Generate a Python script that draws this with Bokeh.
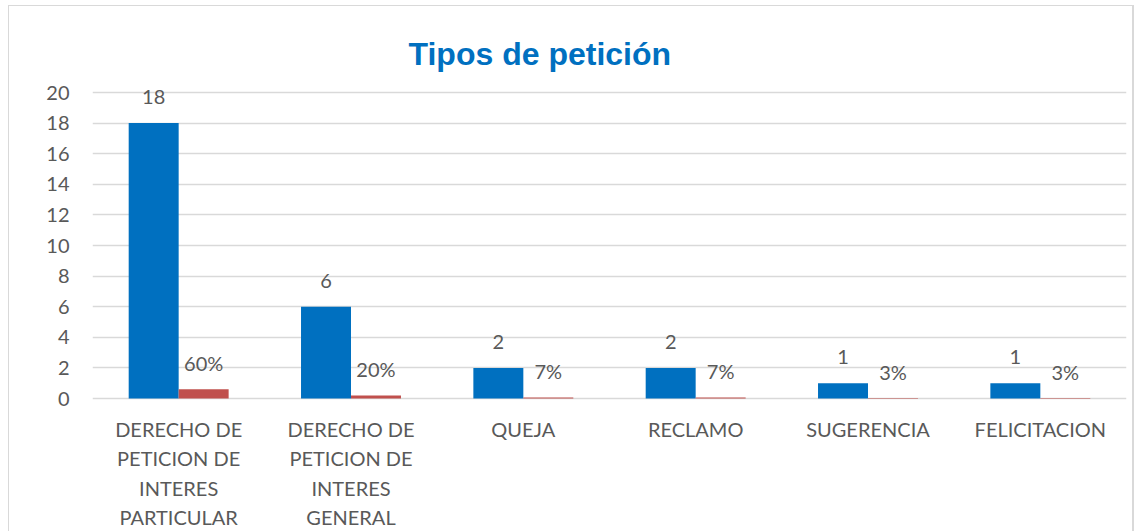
from bokeh.plotting import figure
from bokeh.models import ColumnDataSource, FactorRange, Range1d, LabelSet, FixedTicker
from bokeh.core.properties import value
from bokeh.transform import dodge
from bokeh.embed import file_html
from bokeh.resources import INLINE

# ---- data ----
categories = ["DERECHO DE PETICION DE INTERES PARTICULAR",
              "DERECHO DE PETICION DE INTERES GENERAL",
              "QUEJA", "RECLAMO", "SUGERENCIA", "FELICITACION"]
category_labels = ["DERECHO DE\nPETICION DE\nINTERES\nPARTICULAR",
                   "DERECHO DE\nPETICION DE\nINTERES\nGENERAL",
                   "QUEJA", "RECLAMO", "SUGERENCIA", "FELICITACION"]
cantidad = [18, 6, 2, 2, 1, 1]
porcentaje = [0.60, 0.20, 0.067, 0.067, 0.033, 0.033]
y_ticks = [0, 2, 4, 6, 8, 10, 12, 14, 16, 18, 20]

BLUE = "#0070C0"
RED = "#C0504D"
GRAY = "#595959"
GRID = "#D9D9D9"
FONT = "Lato"

source = ColumnDataSource(dict(
    cat=categories,
    cantidad=cantidad,
    porcentaje=porcentaje,
    cant_txt=[str(v) for v in cantidad],
    pct_txt=["{:.0f}%".format(v * 100) for v in porcentaje],
))

# category label lines (multi-line axis labels)
lc, lt, lo, lz = [], [], [], []
for c, lab in zip(categories, category_labels):
    for i, line in enumerate(lab.split("\n")):
        lc.append(c)
        lt.append(line)
        lo.append(-(30.5 + 29.3 * i))
        lz.append(0)
cat_source = ColumnDataSource(dict(cat=lc, txt=lt, off=lo, y=lz))

# vertical scale: 20 units over 306 px; frame extended above and below the axis
PX = 306 / 20.0
y_start = -(526 - 393) / PX
y_end = 20 + 20 / PX

p = figure(x_range=FactorRange(factors=categories), y_range=Range1d(y_start, y_end),
           width=1126, height=526, output_backend="svg", toolbar_location=None,
           min_border_left=84, min_border_right=8, min_border_top=67, min_border_bottom=0)

p.styles = {"margin-left": "8px", "margin-top": "5px",
            "box-shadow": "inset 1px 1px 0 #D9D9D9, inset -2px 0 0 #D9D9D9"}
p.border_fill_color = None
p.background_fill_color = None
p.outline_line_color = None

p.vbar(x=dodge("cat", -0.145, range=p.x_range), top="cantidad", width=0.29,
       source=source, fill_color=BLUE, line_color=None)
p.vbar(x=dodge("cat", 0.145, range=p.x_range), top="porcentaje", width=0.29,
       source=source, fill_color=RED, line_color=None)

lab1 = LabelSet(x=dodge("cat", -0.145, range=p.x_range), y="cantidad", text="cant_txt",
                source=source, text_align="center", text_baseline="middle", y_offset=26,
                text_font=value(FONT), text_font_size="20px", text_color=GRAY)
lab2 = LabelSet(x=dodge("cat", 0.145, range=p.x_range), y="porcentaje", text="pct_txt",
                source=source, text_align="center", text_baseline="middle", y_offset=26,
                text_font=value(FONT), text_font_size="20px", text_color=GRAY)
lab3 = LabelSet(x="cat", y="y", text="txt", y_offset="off", source=cat_source,
                text_align="center", text_baseline="middle",
                text_font=value(FONT), text_font_size="20px", text_color=GRAY)
p.add_layout(lab1)
p.add_layout(lab2)
p.add_layout(lab3)

# title
p.title.text = "Tipos de petición"
p.title.text_font = "Liberation Sans"
p.title.text_font_style = "bold"
p.title.text_font_size = "32px"
p.title.text_color = BLUE
p.title.align = "left"
p.title.offset = 316
p.title.standoff = 2

# grids
p.xgrid.grid_line_color = None
p.ygrid.grid_line_color = GRID
p.ygrid.grid_line_width = 1.5
p.yaxis.ticker = FixedTicker(ticks=y_ticks)

# y axis
p.yaxis.axis_line_color = None
p.yaxis.major_tick_line_color = None
p.yaxis.minor_tick_line_color = None
p.yaxis.major_tick_out = 0
p.yaxis.major_tick_in = 0
p.yaxis.minor_tick_out = 0
p.yaxis.major_label_standoff = 23
p.yaxis.major_label_text_font = FONT
p.yaxis.major_label_text_font_size = "20px"
p.yaxis.major_label_text_color = GRAY

# x axis (labels drawn as label set above)
p.xaxis.visible = False

open("out.html", "w").write(file_html(p, INLINE))
